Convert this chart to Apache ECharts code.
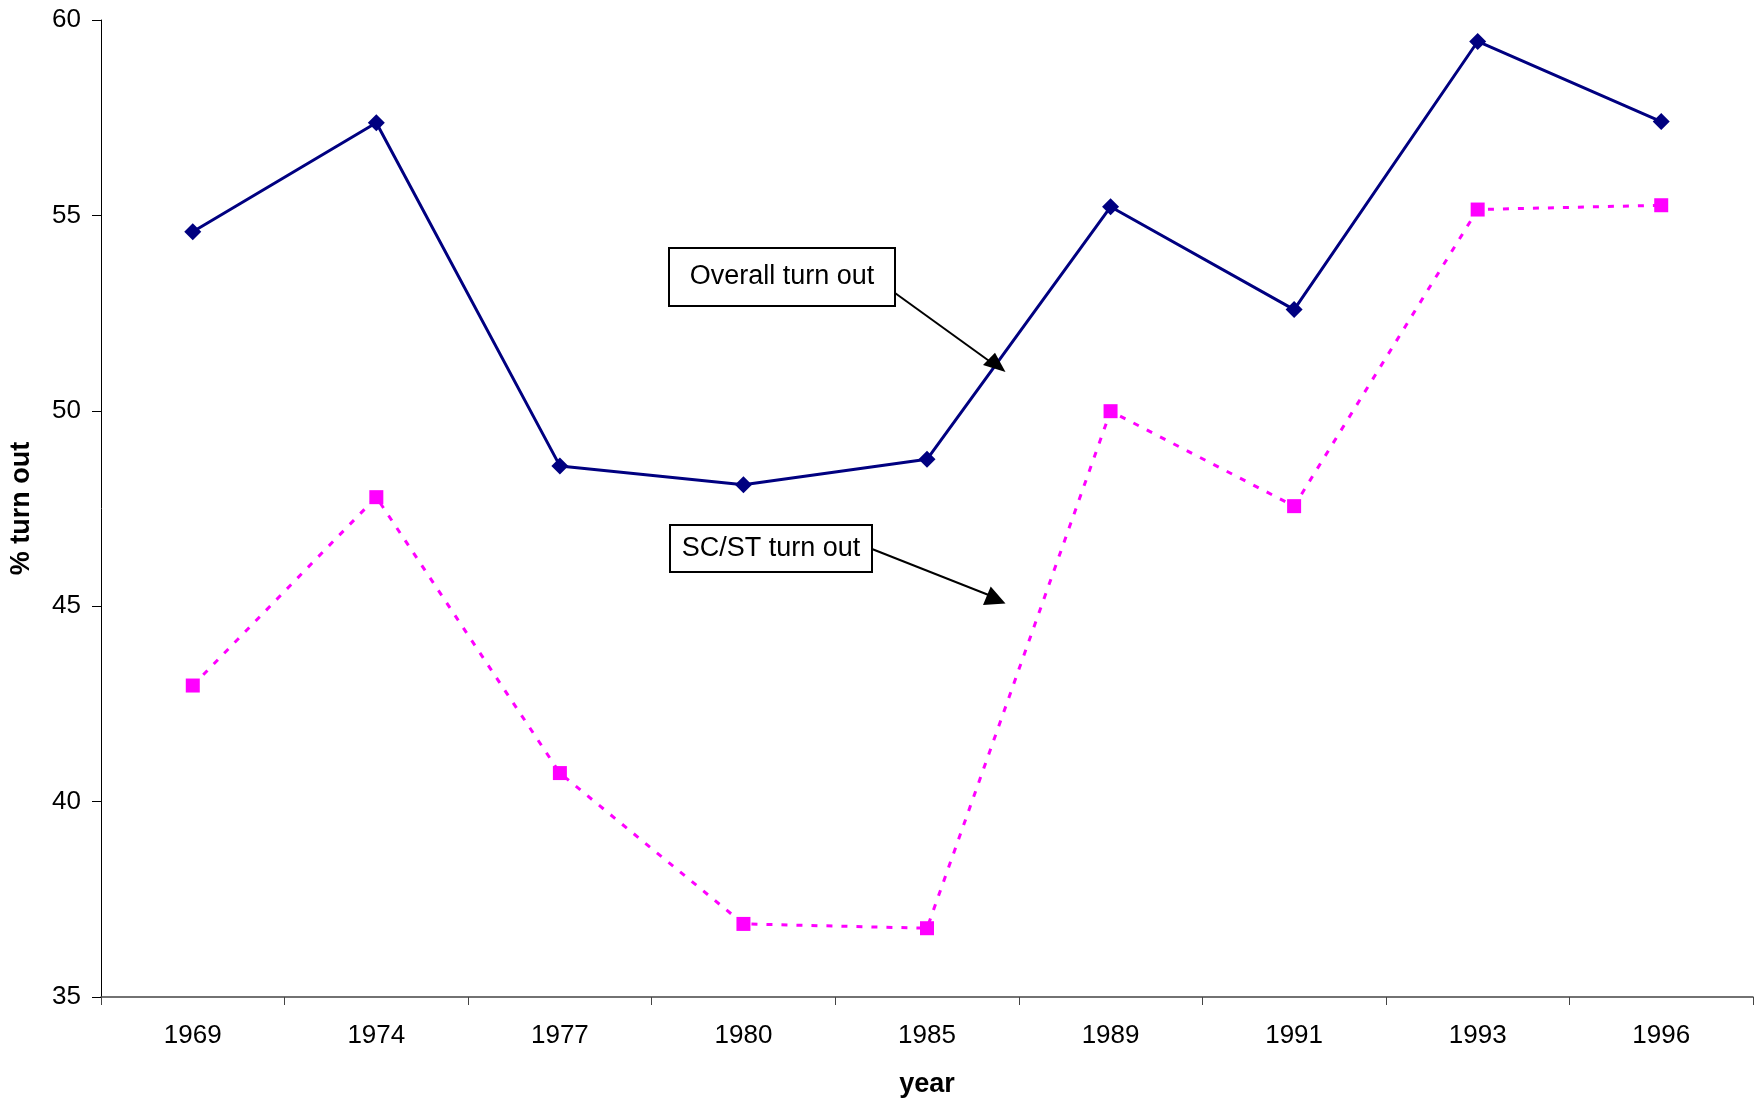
<!DOCTYPE html>
<html>
<head>
<meta charset="utf-8">
<title>Voter turn out</title>
<script src="https://cdn.jsdelivr.net/npm/echarts@6/dist/echarts.min.js"></script>
<style>
  html, body { margin: 0; padding: 0; background: #ffffff; }
  #chart { width: 1764px; height: 1100px; }
</style>
</head>
<body>
<div id="chart"></div>
<script>
// Election years on the category axis
const years = ['1969', '1974', '1977', '1980', '1985', '1989', '1991', '1993', '1996'];

// Percentage turn out, all voters
const overallTurnout = [54.58, 57.37, 48.59, 48.11, 48.76, 55.22, 52.59, 59.45, 57.40];

// Percentage turn out, SC/ST voters
const scstTurnout = [42.97, 47.79, 40.73, 36.87, 36.76, 49.99, 47.56, 55.15, 55.26];

// Value axis ticks
const yTicks = [35, 40, 45, 50, 55, 60];

const FONT = '"Liberation Sans", Arial, sans-serif';

const chart = echarts.init(document.getElementById('chart'));

// Callout box with a pointer arrow ending in a filled triangle
function callout(box, text, from, head) {
  return [
    {
      type: 'rect',
      shape: { x: box[0], y: box[1], width: box[2], height: box[3] },
      style: { fill: '#ffffff', stroke: '#000000', lineWidth: 2 },
      z: 10
    },
    {
      type: 'text',
      x: box[0] + box[2] / 2,
      y: box[1] + box[3] / 2,
      style: {
        text: text, fill: '#000000', font: '27px ' + FONT,
        align: 'center', verticalAlign: 'middle'
      },
      z: 11
    },
    {
      type: 'line',
      shape: { x1: from[0], y1: from[1], x2: head[2][0] - 8, y2: head[2][1] - 5 },
      style: { stroke: '#000000', lineWidth: 2 },
      z: 10
    },
    {
      type: 'polygon',
      shape: { points: head },
      style: { fill: '#000000' },
      z: 12
    }
  ];
}

chart.setOption({
  backgroundColor: '#ffffff',
  animation: false,
  textStyle: { fontFamily: FONT },
  grid: {
    left: 101, right: 11, top: 20, bottom: 103,
    containLabel: false,
    outerBoundsMode: 'none'
  },
  xAxis: {
    type: 'category',
    data: years,
    boundaryGap: true,
    name: 'year',
    nameLocation: 'middle',
    nameGap: 74,
    nameTextStyle: { fontSize: 27, fontWeight: 'bold', color: '#000000', fontFamily: FONT },
    axisLine: { lineStyle: { color: '#444444', width: 1.5 } },
    axisTick: { show: true, alignWithLabel: false, length: 8, lineStyle: { color: '#444444', width: 1 } },
    axisLabel: { fontSize: 26, color: '#000000', margin: 26, fontFamily: FONT },
    splitLine: { show: false }
  },
  yAxis: {
    type: 'value',
    min: yTicks[0],
    max: yTicks[yTicks.length - 1],
    interval: yTicks[1] - yTicks[0],
    name: '% turn out',
    nameLocation: 'middle',
    nameRotate: 90,
    nameGap: 66,
    nameTextStyle: { fontSize: 27, fontWeight: 'bold', color: '#000000', fontFamily: FONT },
    axisLine: { show: true, lineStyle: { color: '#000000', width: 1 } },
    axisTick: { show: true, length: 9, lineStyle: { color: '#000000', width: 1 } },
    axisLabel: { fontSize: 26, color: '#000000', margin: 20, fontFamily: FONT },
    splitLine: { show: false }
  },
  series: [
    {
      name: 'Overall turn out',
      type: 'line',
      data: overallTurnout,
      symbol: 'diamond',
      symbolSize: 17,
      lineStyle: { color: '#000080', width: 3, type: 'solid' },
      itemStyle: { color: '#000080', borderWidth: 0 },
      z: 3
    },
    {
      name: 'SC/ST turn out',
      type: 'line',
      data: scstTurnout,
      symbol: 'rect',
      symbolSize: 14,
      lineStyle: { color: '#ff00ff', width: 3, type: [6, 9] },
      itemStyle: { color: '#ff00ff', borderWidth: 0 },
      z: 2
    }
  ],
  graphic: [
    ...callout([669, 248, 226, 58], 'Overall turn out',
      [895, 293], [[983, 365], [995, 352.7], [1005.5, 372]]),
    ...callout([670, 525, 202, 47], 'SC/ST turn out',
      [872, 549], [[983, 605], [990.7, 586.5], [1005.5, 603.5]])
  ]
});
</script>
</body>
</html>
